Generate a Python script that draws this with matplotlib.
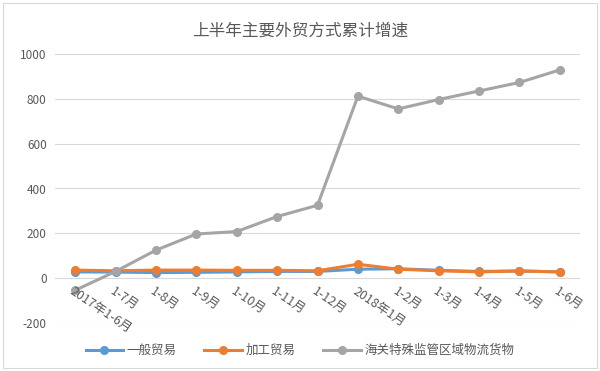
import matplotlib.pyplot as plt
from matplotlib.patches import Rectangle

plt.rcParams['font.family'] = ['Noto Sans CJK SC', 'DejaVu Sans']

# 数据
categories = ['2017年1-6月', '1-7月', '1-8月', '1-9月', '1-10月', '1-11月', '1-12月',
              '2018年1月', '1-2月', '1-3月', '1-4月', '1-5月', '1-6月']
general_trade = [28, 27, 25, 26, 28, 30, 30, 40, 42, 35, 30, 32, 28]
processing_trade = [36, 33, 36, 36, 35, 35, 33, 62, 40, 33, 28, 32, 28]
special_zone = [-54, 30, 125, 197, 208, 275, 325, 812, 755, 797, 835, 873, 929]
series_names = ['一般贸易', '加工贸易', '海关特殊监管区域物流货物']
series_colors = ['#5B9BD5', '#ED7D31', '#A5A5A5']
yticks = [-200, 0, 200, 400, 600, 800, 1000]

fig = plt.figure(figsize=(6, 3.71), dpi=100)
ax = fig.add_axes([55 / 600, 1 - 323 / 371, 525 / 600, 269 / 371])

x = list(range(len(categories)))
for vals, name, c in zip([general_trade, processing_trade, special_zone], series_names, series_colors):
    ax.plot(x, vals, color=c, linewidth=2.2, marker='o', markersize=5.5, label=name)

ax.set_xlim(-0.5, len(categories) - 0.5)
ax.set_ylim(-200, 1000)
ax.set_yticks(yticks)
ax.set_yticklabels([str(v) for v in yticks], fontsize=8.5, color='#595959')
ax.set_xticks([])
ax.tick_params(axis='y', length=0, pad=6)
ax.yaxis.grid(True, color='#D9D9D9', linewidth=0.8)
ax.set_axisbelow(True)
for s in ax.spines.values():
    s.set_visible(False)

# 类别标签 (沿0轴，斜排)
for i, lab in enumerate(categories):
    ax.annotate(lab, xy=(i, 0), xytext=(-3, -9), textcoords='offset points',
                rotation=-34, rotation_mode='anchor', ha='left', va='center',
                fontsize=9, color='#595959')

fig.suptitle('上半年主要外贸方式累计增速', y=0.94, fontsize=12, color='#595959')

fig.legend(loc='center', bbox_to_anchor=(0.5, 0.055), ncol=3, frameon=False,
           fontsize=9, labelcolor='#595959', handlelength=3, columnspacing=2.2,
           handletextpad=0.3)

fig.patches.append(Rectangle((3 / 600, 3 / 371), 594 / 600, 365 / 371,
                             transform=fig.transFigure, fill=False,
                             edgecolor='#D9D9D9', linewidth=0.8))

fig.savefig('out.png', dpi=100)
